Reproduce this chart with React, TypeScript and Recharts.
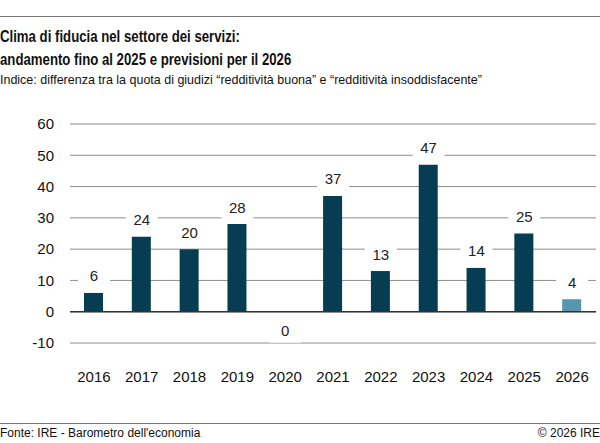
import { ComposedChart, Bar, Line, XAxis, YAxis, CartesianGrid, ReferenceLine, Cell } from 'recharts';

const years = ['2016', '2017', '2018', '2019', '2020', '2021', '2022', '2023', '2024', '2025', '2026'];
const values = [6, 24, 20, 28, 0, 37, 13, 47, 14, 25, 4];
const forecast = [false, false, false, false, false, false, false, false, false, false, true];
const yTicks = [-10, 0, 10, 20, 30, 40, 50, 60];

const data = years.map((year, i) => ({ year, value: values[i], forecast: forecast[i] }));

const font = '"Liberation Sans", Arial, sans-serif';

function ValueLabel(props: any) {
  const { x, y, value } = props;
  // zero values get their label under the baseline
  const cy = value === 0 ? y + 19 : y - 17;
  return (
    <g>
      <rect x={x - 16} y={cy - 12} width={32} height={24} fill="#fff" />
      <text x={x} y={cy} textAnchor="middle" dominantBaseline="central" fontSize={15} fill="#222" fontFamily={font}>
        {value}
      </text>
    </g>
  );
}

export default function App() {
  return (
    <div style={{ position: 'absolute', left: 0, top: 0, width: 600, height: 443, background: '#fff', fontFamily: font, color: '#111' }}>
      <div style={{ position: 'absolute', left: 0, top: 16, width: 600, borderTop: '1px solid #777' }} />
      <div
        style={{
          position: 'absolute',
          left: 0,
          top: 25,
          fontWeight: 'bold',
          fontSize: 16.5,
          lineHeight: '23px',
          whiteSpace: 'nowrap',
          transform: 'scaleX(0.8)',
          transformOrigin: 'left top',
        }}
      >
        Clima di fiducia nel settore dei servizi:
        <br />
        andamento fino al 2025 e previsioni per il 2026
      </div>
      <div
        style={{
          position: 'absolute',
          left: 0,
          top: 72,
          fontSize: 13,
          whiteSpace: 'nowrap',
          transform: 'scaleX(0.96)',
          transformOrigin: 'left top',
        }}
      >
        Indice: differenza tra la quota di giudizi “redditività buona” e “redditività insoddisfacente”
      </div>
      <div style={{ position: 'absolute', left: 0, top: 100 }}>
        <ComposedChart width={600} height={300} data={data} margin={{ top: 24, right: 4, bottom: 0, left: 0 }}>
          <CartesianGrid vertical={false} stroke="#8c8c8c" strokeWidth={1} />
          <XAxis
            dataKey="year"
            axisLine={false}
            tickLine={false}
            tickSize={0}
            tickMargin={28}
            height={57}
            interval={0}
            tick={{ fontSize: 15, fill: '#111', fontFamily: font }}
          />
          <YAxis
            domain={[-10, 60]}
            ticks={yTicks}
            axisLine={false}
            tickLine={false}
            tickSize={0}
            tickMargin={16}
            width={70}
            interval={0}
            tick={{ fontSize: 15, fill: '#111', fontFamily: font }}
          />
          <ReferenceLine y={0} stroke="#333" strokeWidth={1.5} />
          <Bar dataKey="value" barSize={19} isAnimationActive={false}>
            {data.map((d) => (
              <Cell key={d.year} fill={d.forecast ? '#5696b0' : '#063d52'} />
            ))}
          </Bar>
          {/* invisible series that only carries the value labels */}
          <Line
            dataKey="value"
            stroke="none"
            dot={false}
            activeDot={false}
            legendType="none"
            isAnimationActive={false}
            label={ValueLabel}
          />
        </ComposedChart>
      </div>
      <div style={{ position: 'absolute', left: 0, top: 423, width: 600, borderTop: '1px solid #777' }} />
      <div style={{ position: 'absolute', left: 0, top: 426, fontSize: 12 }}>
        Fonte: IRE - Barometro dell'economia
      </div>
      <div style={{ position: 'absolute', right: 0, top: 426, fontSize: 12 }}>
        © 2026 IRE
      </div>
    </div>
  );
}
